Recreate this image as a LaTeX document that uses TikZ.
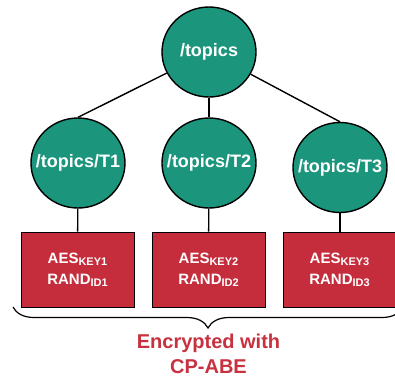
\documentclass[tikz,border=0pt]{standalone}
\usepackage{fontspec}
\setmainfont{Liberation Sans}
\usetikzlibrary{shapes.geometric,decorations.pathreplacing}
\definecolor{topicteal}{HTML}{1B967D}
\definecolor{keyred}{HTML}{C62D3C}
\definecolor{labelred}{HTML}{C8313F}
\newcommand{\subtxt}[1]{\raisebox{-2pt}{\fontsize{11}{11}\selectfont #1}}
\begin{document}
\begin{tikzpicture}[x=1pt,y=-1pt,
  topicnode/.style={ellipse, draw=black, line width=1.4pt, fill=topicteal,
    minimum width=94pt, minimum height=90pt, inner sep=0pt,
    text=white, font=\fontsize{18}{18}\selectfont\bfseries},
  keybox/.style={rectangle, draw=black, line width=1pt, fill=keyred,
    minimum width=113pt, minimum height=75pt, inner sep=0pt,
    text=white, align=center, font=\fontsize{15}{21}\selectfont\bfseries},
  link/.style={draw=black, line width=1.4pt},
  bracestyle/.style={draw=black, line width=1.2pt, decorate,
    decoration={brace, mirror, amplitude=21pt}}
]
\useasboundingbox (0,0) rectangle (395,376);
\clip (0,0) rectangle (395,376);

\node[topicnode] (root) at (209,52) {\makebox[0pt]{/topics}};
\node[topicnode] (t1) at (78,163) {\makebox[0pt]{/topics/T1}};
\node[topicnode] (t2) at (209,163) {\makebox[0pt]{/topics/T2}};
\node[topicnode] (t3) at (340,167.5) {\makebox[0pt]{/topics/T3}};

\node[keybox] (k1) at (77.5,269.5) {AES\subtxt{KEY1}\\RAND\subtxt{ID1}};
\node[keybox] (k2) at (208.5,269.5) {AES\subtxt{KEY2}\\RAND\subtxt{ID2}};
\node[keybox] (k3) at (339.5,269.5) {AES\subtxt{KEY3}\\RAND\subtxt{ID3}};

\draw[link] (root) -- (t1.north);
\draw[link] (root) -- (t2.north);
\draw[link] (root) -- (t3.north);
\draw[link] (t1) -- (k1);
\draw[link] (t2) -- (k2);
\draw[link] (t3.south) -- (t3.south |- k3.north);

\coordinate (bl) at (13,307);
\coordinate (br) at (403,307);
\draw[bracestyle] (bl) -- (br);

\node[text=labelred, align=center, font=\fontsize{20}{25}\selectfont\bfseries, anchor=north]
  (lbl) at (208.5,330) {Encrypted with\\CP-ABE};
\end{tikzpicture}
\end{document}
